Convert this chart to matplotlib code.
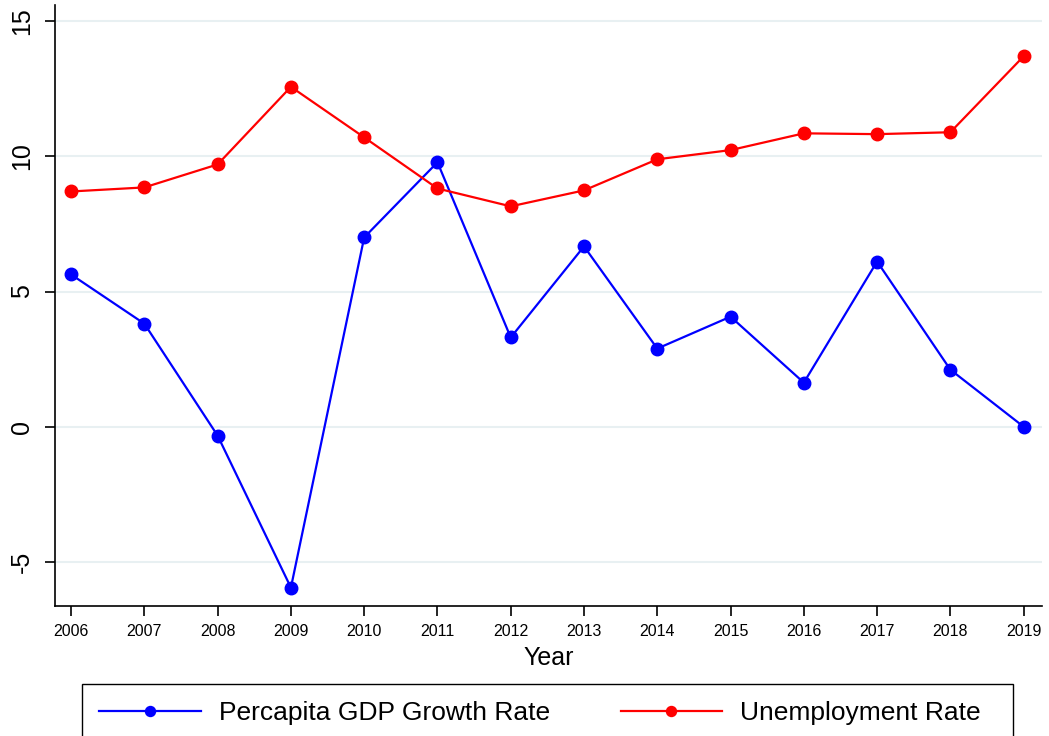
import matplotlib.pyplot as plt
from matplotlib.patches import Rectangle

plt.rcParams['font.family'] = ['Liberation Sans', 'DejaVu Sans']
plt.rcParams['axes.unicode_minus'] = False

years = list(range(2006, 2020))
gdp_growth = [5.63, 3.81, -0.33, -5.95, 7.0, 9.78, 3.3, 6.67, 2.89, 4.07, 1.63, 6.11, 2.11, 0.0]
unemployment = [8.7, 8.85, 9.7, 12.57, 10.7, 8.81, 8.15, 8.74, 9.89, 10.23, 10.85, 10.82, 10.89, 13.7]
y_ticks = [-5, 0, 5, 10, 15]

fig = plt.figure(figsize=(10.49, 7.36), dpi=100)
ax = fig.add_axes([0.0524, 0.1766, 0.9409, 0.8164])

ax.plot(years, gdp_growth, color='#0000ff', lw=1.6, marker='o', ms=9,
        label='Percapita GDP Growth Rate', clip_on=False, zorder=3)
ax.plot(years, unemployment, color='#ff0000', lw=1.6, marker='o', ms=9,
        label='Unemployment Rate', clip_on=False, zorder=3)

ax.set_xlim(2005.78, 2019.25)
ax.set_ylim(-6.63, 15.59)
ax.set_xticks(years)
ax.set_yticks(y_ticks)
ax.tick_params(axis='x', labelsize=11.5, length=7, width=1.2, pad=6, direction='out')
ax.tick_params(axis='y', labelsize=18, length=7, width=1.2, pad=8, direction='out')
for lab in ax.get_yticklabels():
    lab.set_rotation(90)
    lab.set_va('center')

ax.grid(axis='y', color='#e8f0f2', lw=1.5)
ax.set_axisbelow(True)
for s in ['top', 'right']:
    ax.spines[s].set_visible(False)
for s in ['left', 'bottom']:
    ax.spines[s].set_linewidth(1.2)

ax.set_xlabel('Year', fontsize=18, labelpad=5)

# legend box drawn separately so it can have the wide right margin of the original
fig.patches.append(Rectangle((82 / 1049, -0.01), 931 / 1049, 0.01 + 52 / 736,
                             transform=fig.transFigure, fill=False,
                             edgecolor='black', lw=1.0))
fig.legend(loc='upper left', bbox_to_anchor=(82 / 1049, 1 - 684 / 736),
           ncol=2, fontsize=19, frameon=False, markerscale=0.8,
           handlelength=3.85, handletextpad=0.68, columnspacing=2.68,
           borderpad=0.65, borderaxespad=0)

fig.savefig('out.png', dpi=100)
